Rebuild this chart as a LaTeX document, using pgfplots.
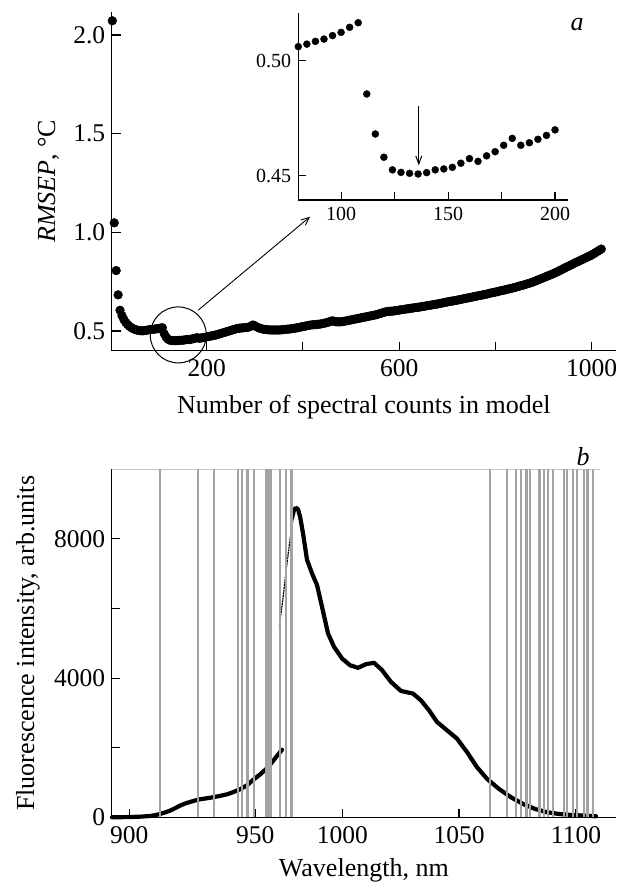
\documentclass[border=0pt]{standalone}
\usepackage{fontspec}
\setmainfont{Liberation Serif}
\usepackage{pgfplots}
\usepackage{pgfplotstable}
\pgfplotsset{compat=1.18}
\usetikzlibrary{arrows.meta}

\pgfplotstableread{
x y
4 2.072
8 1.048
12 0.806
16 0.683
20 0.605
24 0.578
28 0.558
32 0.543
36 0.532
40 0.523
44 0.516
48 0.511
52 0.507
56 0.504
60 0.502
64 0.501
68 0.501
72 0.502
76 0.504
80 0.5061
84 0.5072
88 0.5084
92 0.5094
96 0.5109
100 0.5123
104 0.5145
108 0.5165
112 0.4855
116 0.4681
120 0.4580
124 0.4525
128 0.4514
132 0.4510
136 0.4507
140 0.4513
144 0.4525
148 0.4529
152 0.4536
156 0.4554
160 0.4574
164 0.4562
168 0.4586
172 0.4604
176 0.4632
180 0.4662
184 0.4632
188 0.4643
192 0.4658
196 0.4675
200 0.4699
204 0.472
208 0.474
212 0.476
216 0.478
220 0.480
224 0.483
228 0.486
232 0.489
236 0.492
240 0.495
244 0.498
248 0.501
252 0.504
256 0.507
260 0.510
264 0.512
268 0.514
272 0.515
276 0.516
280 0.517
284 0.518
288 0.520
292 0.524
296 0.530
300 0.527
304 0.521
308 0.516
312 0.513
316 0.510
320 0.508
324 0.507
328 0.506
332 0.505
336 0.505
340 0.505
344 0.505
348 0.505
352 0.505
356 0.506
360 0.507
364 0.508
368 0.509
372 0.510
376 0.511
380 0.513
384 0.514
388 0.516
392 0.518
396 0.520
400 0.522
404 0.524
408 0.526
412 0.528
416 0.530
420 0.531
424 0.532
428 0.533
432 0.534
436 0.535
440 0.537
444 0.539
448 0.541
452 0.544
456 0.547
460 0.551
464 0.550
468 0.547
472 0.546
476 0.546
480 0.547
484 0.548
488 0.550
492 0.552
496 0.554
500 0.556
504 0.558
508 0.560
512 0.562
516 0.564
520 0.566
524 0.568
528 0.570
532 0.572
536 0.574
540 0.576
544 0.578
548 0.580
552 0.582
556 0.585
560 0.588
564 0.591
568 0.594
572 0.597
576 0.599
580 0.600
584 0.600
588 0.601
592 0.603
596 0.604
600 0.606
604 0.607
608 0.609
612 0.610
616 0.612
620 0.613
624 0.615
628 0.616
632 0.618
636 0.619
640 0.620
644 0.622
648 0.624
652 0.625
656 0.627
660 0.629
664 0.630
668 0.632
672 0.634
676 0.635
680 0.637
684 0.639
688 0.641
692 0.643
696 0.645
700 0.647
704 0.649
708 0.651
712 0.652
716 0.654
720 0.656
724 0.658
728 0.660
732 0.662
736 0.664
740 0.666
744 0.668
748 0.670
752 0.672
756 0.674
760 0.676
764 0.678
768 0.680
772 0.682
776 0.684
780 0.686
784 0.688
788 0.691
792 0.693
796 0.695
800 0.697
804 0.699
808 0.702
812 0.704
816 0.706
820 0.708
824 0.711
828 0.713
832 0.715
836 0.718
840 0.720
844 0.723
848 0.726
852 0.729
856 0.731
860 0.734
864 0.737
868 0.740
872 0.743
876 0.746
880 0.750
884 0.754
888 0.758
892 0.762
896 0.766
900 0.770
904 0.774
908 0.778
912 0.782
916 0.786
920 0.790
924 0.795
928 0.799
932 0.804
936 0.809
940 0.814
944 0.819
948 0.824
952 0.828
956 0.833
960 0.838
964 0.843
968 0.848
972 0.852
976 0.857
980 0.862
984 0.866
988 0.871
992 0.876
996 0.880
1000 0.885
1004 0.891
1008 0.897
1012 0.903
1016 0.909
1020 0.915
}\rmsep

\pgfplotstableread{
x y
80 0.5061
84 0.5072
88 0.5084
92 0.5094
96 0.5109
100 0.5123
104 0.5145
108 0.5165
112 0.4855
116 0.4681
120 0.4580
124 0.4525
128 0.4514
132 0.4510
136 0.4507
140 0.4513
144 0.4525
148 0.4529
152 0.4536
156 0.4554
160 0.4574
164 0.4562
168 0.4586
172 0.4604
176 0.4632
180 0.4662
184 0.4632
188 0.4643
192 0.4658
196 0.4675
200 0.4699
}\inset

% panel b: x in plot position units (tick labels give wavelength)
\pgfplotstableread{
x y
112 0
120 3
130 8
140 18
150 37
155 60
160 95
165 140
170 190
175 260
180 335
185 395
190 440
195 482
200 518
207 548
213 575
220 615
227 660
233 720
240 805
247 920
253 1073
260 1230
267 1410
272 1580
277 1765
282 1940
}\speclow

\pgfplotstableread{
x y
279.3 5486
283 6300
287 7300
291 8200
293.5 8650
}\specrise

\pgfplotstableread{
x y
292 8600
294 8830
296 8893
298 8850
300 8650
303 8165
307 7400
312 7010
317 6675
322 6050
328 5285
334 4900
342 4565
350 4370
358 4295
366 4400
374 4440
382 4230
391 3890
401 3630
413 3555
421 3360
429 3075
437 2740
447 2500
457 2260
467 1875
477 1440
487 1105
499 815
511 575
523 385
535 240
547 145
559 95
572 65
584 50
596 30
}\spechigh

\pgfplotstableread{
x y
160 10000
197.7 10000
213.8 10000
237.8 10000
242 10000
247.5 10000
254.2 10000
266 10000
268.5 10000
270.8 10000
280 10000
285.7 10000
291.5 10000
490 10000
506.7 10000
516 10000
521.3 10000
526.5 10000
530.3 10000
539.6 10000
543.8 10000
548.3 10000
553 10000
564 10000
566.7 10000
573 10000
576.7 10000
584 10000
587.5 10000
593.3 10000
}\selected

\pgfplotsset{
  myaxis/.style={
    scale only axis,
    axis x line=bottom, axis y line=left,
    axis line style={-, line width=1.3pt},
    tick align=inside,
    major tick style={line width=1.1pt, black},
    /pgf/number format/assume math mode=true,
    label style={font=\fontsize{26}{30}\selectfont},
  },
}

\begin{document}
\begin{tikzpicture}
\useasboundingbox (0pt,0pt) rectangle (619pt,883pt);

% ---------- panel a main ----------
\begin{axis}[myaxis,
  at={(111.7pt,532.3pt)}, anchor=south west,
  width=504.3pt, height=339pt,
  xmin=2.7, xmax=1050.6, ymin=0.40, ymax=2.118,
  xtick={200,400,600,800,1000}, xticklabels={200,,600,,1000},
  ytick={0.5,1.0,1.5,2.0}, yticklabels={0.5,1.0,1.5,2.0},
  major tick length=9pt,
  tick label style={font=\fontsize{25.5}{30}\selectfont},
  xticklabel style={yshift=-5.5pt},
  yticklabel style={xshift=-3pt},
  xlabel={Number of spectral counts in model},
  ylabel={\textit{RMSEP}, °C},
  xlabel style={at={(axis description cs:0.5,-0.1847)}, anchor=base},
  ylabel style={at={(axis description cs:-0.1124,0.5)}, anchor=base},
  clip=false,
]
\addplot[only marks, mark=*, mark size=4.4pt, black] table {\rmsep};
\draw[line width=1pt] (axis cs:141,0.48) circle [radius=28pt];
\draw[line width=0.9pt, -{Straight Barb[length=8pt,width=7pt]}] (axis cs:182.7,0.606) -- (axis cs:415,1.079);
\end{axis}

% ---------- panel a inset ----------
\begin{axis}[myaxis,
  at={(298.3pt,683pt)}, anchor=south west,
  width=270pt, height=186.7pt,
  xmin=80, xmax=206.2, ymin=0.4394, ymax=0.5206,
  xtick={100,125,150,175,200}, xticklabels={100,,150,,200},
  ytick={0.45,0.50}, yticklabels={0.45,0.50},
  major tick length=7.5pt,
  tick label style={font=\fontsize{20}{24}\selectfont},
  xticklabel style={yshift=-3.3pt},
  yticklabel style={xshift=-3.6pt},
  clip=false,
]
\addplot[only marks, mark=*, mark size=3.5pt, black] table {\inset};
\draw[line width=1pt, -{Straight Barb[length=8pt,width=6pt]}] (axis cs:136.3,0.4803) -- (axis cs:136.3,0.4545);
\end{axis}

% ---------- panel b ----------
\begin{axis}[myaxis,
  at={(111.7pt,65.7pt)}, anchor=south west,
  width=504.3pt, height=348pt,
  xmin=111.7, xmax=616, ymin=0, ymax=10000,
  xtick={129.3,255.3,342.3,459,576}, xticklabels={900,950,1000,1050,1100},
  ytick={0,2000,4000,6000,8000,10000}, yticklabels={0,,4000,,8000,},
  scaled y ticks=false,
  major tick length=8pt,
  tick label style={font=\fontsize{25.5}{30}\selectfont},
  xticklabel style={yshift=-6pt},
  yticklabel style={xshift=-3pt},
  xlabel={Wavelength, nm},
  ylabel={Fluorescence intensity, arb.units},
  xlabel style={at={(axis description cs:0.5,-0.1707)}, anchor=base},
  ylabel style={at={(axis description cs:-0.154,0.5)}, anchor=base},
  clip=false,
]
\draw[gray!45, line width=0.7pt] (axis cs:111.7,10000) -- (axis cs:600,10000);
\addplot[black, line width=4.2pt, line join=round, line cap=round] table {\speclow};
\addplot[black, line width=1.2pt, dash pattern=on 2pt off 0.7pt] table {\specrise};
\addplot[black, line width=4.2pt, line join=round, line cap=round] table {\spechigh};
\addplot[ycomb, gray!72, line width=2.3pt, mark=none] table {\selected};
\end{axis}

\node[font=\fontsize{26}{30}\selectfont\itshape] at (577pt,858pt) {a};
\node[font=\fontsize{26}{30}\selectfont\itshape] at (583pt,426pt) {b};
\end{tikzpicture}
\end{document}
